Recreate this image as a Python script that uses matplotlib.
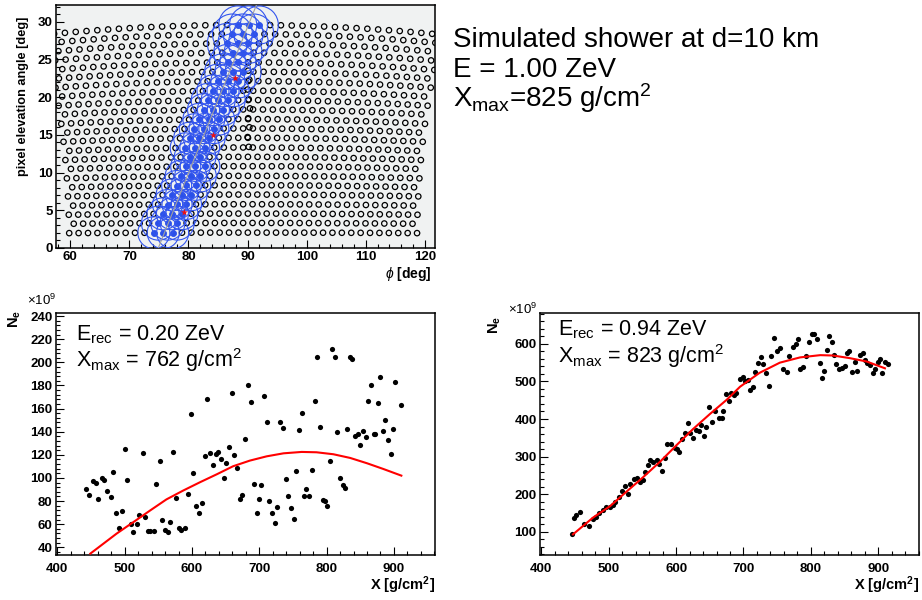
import numpy as np
import matplotlib
matplotlib.use('Agg')
import matplotlib.pyplot as plt
from matplotlib.ticker import MultipleLocator

plt.rcParams['font.family'] = ['Liberation Sans', 'DejaVu Sans']
plt.rcParams['mathtext.fontset'] = 'custom'
plt.rcParams['mathtext.rm'] = 'Liberation Sans'
plt.rcParams['mathtext.it'] = 'Liberation Sans:italic'
plt.rcParams['mathtext.bf'] = 'Liberation Sans:bold'

# ---------------- data: camera (top-left) ----------------
row_elev = [2.04, 3.32, 4.56, 5.80, 7.08, 8.32, 9.56, 10.84, 12.08, 13.32, 14.60,
            15.84, 17.08, 18.36, 19.60, 20.84, 22.12, 23.36, 24.60, 25.88, 27.12,
            28.36, 29.56]
cam_center_phi = 89.25
pixel_pitch_deg = 1.59
camera_halfwidth_deg = 29.6
row_sag_frac = 0.04
extra_phi = [90.2, 90.0, 90.3, 90.1, 90.4, 90.2, 90.0, 90.3, 90.1]
extra_elev = [13.4, 14.7, 16.0, 17.2, 18.5, 19.7, 21.0, 22.3, 23.5]
track_phi = [74.9, 91.5]
track_elev = [0.0, 32.2]
trigger_halfwidth = 2.4
signal_diam_px = [32, 34, 32, 30, 32, 30, 32, 30, 32, 30, 32, 30, 32, 32, 34,
                  32, 34, 36, 36, 38, 40, 40, 38]
star_phi = [79.3, 84.2, 87.9]
star_elev = [4.8, 15.0, 22.5]

# ---------------- data: reconstructed profile (bottom-left) ----------------
left_x = [443, 447, 453, 457, 461, 466, 470, 474, 479, 483, 487, 491, 496, 500, 504,
          509, 513, 518, 522, 527, 530, 534, 538, 543, 547, 552, 556, 560, 564, 568,
          572, 576, 581, 584, 589, 594, 598, 602, 606, 611, 615, 619, 623, 627, 631,
          635, 639, 643, 647, 651, 655, 659, 663, 667, 671, 675, 679, 683, 688, 692,
          696, 699, 703, 707, 711, 715, 719, 723, 727, 731, 735, 739, 743, 747, 751,
          755, 759, 763, 766, 770, 774, 778, 782, 786, 790, 794, 797, 801, 805, 808,
          812, 816, 820, 824, 828, 831, 834, 838, 842, 846, 850, 854, 858, 862, 866,
          870, 872, 876, 880, 884, 887, 891, 895, 899, 902, 910]
left_y = [90.6, 85.4, 97.5, 95.5, 82, 100, 97.8, 89, 83.7, 105, 69.6, 56.7, 71, 125, 98,
          60, 53, 60, 67.6, 122, 66, 54.4, 54, 54, 94.9, 115, 64, 55, 53.2, 61.5,
          122.5, 83, 57, 54.7, 57, 86.3, 155.5, 104, 76, 70, 78, 118.7, 168.7, 121.3, 111.6,
          120.5, 122.8, 116, 99.8, 113, 126.8, 173.3, 120, 109, 82, 85.4, 134, 180.5, 166, 94.6,
          70, 81.4, 94.3, 171, 148, 80, 69.6, 60.7, 74.5, 148, 143, 99.5, 84.5, 74, 64.4,
          106.4, 141.7, 155.8, 84.5, 90.6, 84.2, 107.2, 166.4, 204.7, 143.7, 80.8, 80.2, 75.6, 114.7, 211.6,
          204.4, 139.4, 100, 94.3, 91, 142, 205, 203, 136, 137.7, 128.5, 140.6, 135.4, 166.4, 180,
          138.3, 138.3, 164.7, 187.4, 141, 150, 133, 121, 142, 183, 163]
left_fit_x = [449, 488, 513, 538, 562, 587, 612, 637, 661, 686, 711, 736, 763, 785,
              810, 835, 860, 884, 911]
left_fit_y = [34.5, 51.8, 61.8, 71.9, 81.4, 89.1, 96.3, 103.2, 110.1, 115.0, 118.7,
              121.3, 122.5, 122.2, 120.5, 117.3, 112.7, 107.8, 102.0]

# ---------------- data: reconstructed profile (bottom-right) ----------------
right_x = [445, 448, 452, 457, 463, 471, 476, 481, 486, 491, 496, 502, 506, 509, 515,
           519, 524, 529, 532, 537, 542, 547, 551, 554, 558, 562, 566, 571, 575, 579,
           583, 587, 592, 598, 601, 605, 609, 613, 617, 621, 625, 629, 634, 637, 641,
           645, 649, 654, 658, 663, 668, 670, 674, 679, 682, 686, 689, 695, 699, 702,
           706, 710, 714, 717, 722, 726, 729, 734, 738, 741, 746, 750, 754, 759, 765,
           768, 773, 778, 781, 784, 789, 793, 797, 801, 805, 809, 813, 816, 820, 824,
           827, 831, 834, 838, 842, 847, 850, 853, 856, 861, 865, 869, 873, 877, 880,
           884, 888, 892, 895, 899, 903, 906, 910, 914]
right_y = [93, 136, 144, 153, 120, 115, 134, 140, 149, 158, 165, 165, 171, 180, 193,
           209, 222, 200, 226, 240, 242, 233, 238, 260, 277, 291, 286, 290, 280, 262,
           297, 333, 333, 324, 320, 312, 346, 362, 390, 364, 349, 371, 369, 384, 355,
           380, 431, 393, 422, 402, 404, 422, 467, 449, 470, 464, 469, 506, 513, 500,
           504, 476, 484, 524, 550, 566, 546, 522, 489, 569, 615, 580, 590, 533, 525,
           568, 593, 600, 613, 533, 538, 569, 604, 627, 626, 613, 550, 508, 528, 584,
           620, 604, 571, 547, 533, 535, 541, 575, 581, 526, 553, 528, 571, 577, 557,
           550, 544, 522, 533, 553, 559, 522, 553, 547]
right_fit_x = [447, 477, 502, 526, 551, 576, 601, 625, 650, 675, 695, 724, 754, 784,
               814, 833, 858, 883, 910]
right_fit_y = [93, 138, 168, 206, 245, 286, 331, 373, 413, 451, 486, 523, 550, 564,
               570, 569, 562, 553, 535]

# ---------------- figure ----------------
W, H = 922, 600
fig = plt.figure(figsize=(W / 100, H / 100), dpi=100)


def add_axes(px0, py0, px1, py1):
    return fig.add_axes([px0 / W, 1 - py1 / H, (px1 - px0) / W, (py1 - py0) / H])


def root_style(ax, xmaj, xmin, ymaj, ymin, xpad=5.0, ypad=2.5, fs=9.5):
    ax.xaxis.set_major_locator(MultipleLocator(xmaj))
    ax.xaxis.set_minor_locator(MultipleLocator(xmin))
    ax.yaxis.set_major_locator(MultipleLocator(ymaj))
    ax.yaxis.set_minor_locator(MultipleLocator(ymin))
    ax.tick_params(which='both', direction='in', top=False, right=False,
                   width=0.8, color='black', labelsize=fs)
    ax.tick_params(which='major', length=5.5)
    ax.tick_params(which='minor', length=2.8)
    ax.tick_params(axis='x', pad=xpad)
    ax.tick_params(axis='y', pad=ypad)
    plt.setp(ax.get_xticklabels(), fontweight='bold')
    plt.setp(ax.get_yticklabels(), fontweight='bold')
    for s in ax.spines.values():
        s.set_linewidth(1.1)


# ---------- camera panel ----------
ax_cam = add_axes(56, 5, 435, 248)
ax_cam.set_facecolor('#f0f2f2')

cam_phi, cam_el = [], []
for k, e in enumerate(row_elev):
    scale = np.cos(np.radians(row_elev[0])) / np.cos(np.radians(e))
    d = pixel_pitch_deg * scale
    half = camera_halfwidth_deg * scale
    off = 0.5 if k % 2 == 0 else 0.0
    j = np.arange(-40, 41) + off
    p = cam_center_phi + j * d
    p = p[np.abs(p - cam_center_phi) <= half + 1e-6]
    el = e - row_sag_frac * e * ((p - cam_center_phi) / 32.0) ** 2
    cam_phi.extend(p)
    cam_el.extend(el)
cam_phi = np.array(cam_phi + extra_phi)
cam_el = np.array(cam_el + extra_elev)

slope = (track_phi[1] - track_phi[0]) / (track_elev[1] - track_elev[0])
dist = cam_phi - (track_phi[0] + slope * (cam_el - track_elev[0]))
trig = (np.abs(dist) <= trigger_halfwidth) & (cam_el <= 29.7)

ax_cam.scatter(cam_phi[~trig], cam_el[~trig], s=(5.4 * 0.72) ** 2, facecolors='none',
               edgecolors='black', linewidths=0.9, zorder=2)
ax_cam.scatter(cam_phi[trig], cam_el[trig], s=(6.0 * 0.72) ** 2, facecolors='#2a50e8',
               edgecolors='#2a50e8', linewidths=0.6, zorder=3)

row_idx = np.array([int(np.argmin(np.abs(np.array(row_elev) - v))) for v in cam_el[trig]])
big_d = np.array(signal_diam_px)[row_idx] * 0.72
ax_cam.scatter(cam_phi[trig], cam_el[trig], s=big_d ** 2, facecolors='none',
               edgecolors='#3355ee', linewidths=0.8, zorder=4)
ax_cam.plot(track_phi, track_elev, color='#a0a0a0', lw=0.8, zorder=5)
ax_cam.scatter(star_phi, star_elev, marker='*', s=28, color='#ee1111', zorder=6,
               linewidths=0)

ax_cam.set_xlim(57.6, 121.7)
ax_cam.set_ylim(0, 32.2)
root_style(ax_cam, 10, 2, 5, 1, xpad=2.5, ypad=2.5)
ax_cam.text(0.99, -0.125, '\u03d5', transform=ax_cam.transAxes, ha='right',
            va='baseline', fontsize=10, color='white', alpha=0)
ax_cam.text(0.99, -0.125, r'$\phi$ [deg]', transform=ax_cam.transAxes, ha='right',
            va='baseline', fontsize=10, fontweight='bold')
ax_cam.text(-0.087, 0.952, 'pixel elevation angle [deg]', transform=ax_cam.transAxes,
            rotation=90, ha='center', va='top', fontsize=9.2, fontweight='bold')

# ---------- title text ----------
fig.text(453 / W, 1 - 46.7 / H, 'Simulated shower at d=10 km', fontsize=20,
         ha='left', va='baseline')
fig.text(453 / W, 1 - 76.7 / H, 'E = 1.00 ZeV', fontsize=20, ha='left', va='baseline')
fig.text(453 / W, 1 - 106.7 / H, r'X$_{\rm max}$=825 g/cm$^{2}$', fontsize=20,
         ha='left', va='baseline')


def profile_panel(ax, x, y, fx, fy, ylim, ymaj, ymin, lines, txt_xy, exp_xy, ne_xy):
    ax.scatter(x, y, s=(5.2 * 0.72) ** 2, color='black', zorder=3, linewidths=0)
    ax.plot(fx, fy, color='#ff0000', lw=1.5, zorder=4)
    ax.set_xlim(398, 961)
    ax.set_ylim(*ylim)
    root_style(ax, 100, 20, ymaj, ymin, xpad=5.5, ypad=2.5)
    ax.text(txt_xy[0], txt_xy[1], lines[0], transform=ax.transAxes, fontsize=15.5,
            ha='left', va='baseline')
    ax.text(txt_xy[0], txt_xy[2], lines[1], transform=ax.transAxes, fontsize=15.5,
            ha='left', va='baseline')
    ax.text(exp_xy[0], exp_xy[1], r'$\times$10$^{9}$', transform=ax.transAxes,
            fontsize=9.5, ha='left', va='baseline')
    ax.text(ne_xy[0], ne_xy[1], r'$\mathbf{N_{e}}$', transform=ax.transAxes,
            rotation=90, ha='center', va='top', fontsize=10.5)
    ax.text(1.0, -0.145, r'X [g/cm$^{\mathbf{2}}$]', transform=ax.transAxes, ha='right',
            va='baseline', fontsize=10.5, fontweight='bold')


ax_l = add_axes(56, 312.7, 435, 555)
profile_panel(ax_l, left_x, left_y, left_fit_x, left_fit_y, (33.3, 243), 20, 4,
              [r'E$_{\rm rec}$ = 0.20 ZeV', r'X$_{\rm max}$ = 762 g/cm$^{2}$'],
              (0.053, 0.887, 0.776), (-0.077, 1.032), (-0.108, 1.01))

ax_r = add_axes(540, 312.7, 919.3, 555)
profile_panel(ax_r, right_x, right_y, right_fit_x, right_fit_y, (38, 683), 100, 20,
              [r'E$_{\rm rec}$ = 0.94 ZeV', r'X$_{\rm max}$ = 823 g/cm$^{2}$'],
              (0.048, 0.905, 0.794), (-0.084, 0.995), (-0.119, 0.986))

fig.savefig('out.png', dpi=100)
